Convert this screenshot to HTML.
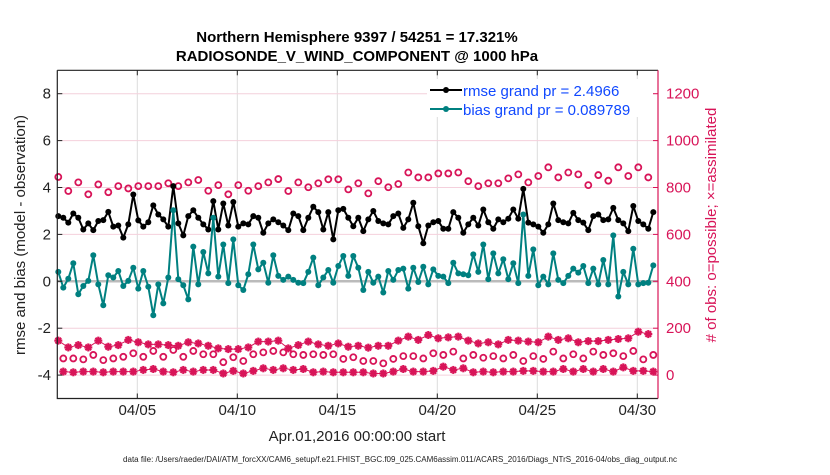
<!DOCTYPE html>
<html><head><meta charset="utf-8"><style>
body{margin:0;background:#fff;font-family:"Liberation Sans",Arial,sans-serif}
svg text{font-family:"Liberation Sans",Arial,sans-serif}
</style></head><body>
<svg id="chart" width="830" height="470" xmlns="http://www.w3.org/2000/svg">
<rect width="830" height="470" fill="#fff"/>
<g id="grid"></g><g id="marks"></g><g id="axes"></g>
</svg>
<script>
const rmse=[2.78,2.71,2.50,2.89,2.71,2.21,2.47,2.18,2.57,2.61,2.96,2.33,2.38,1.86,2.43,3.70,2.60,2.33,2.52,3.24,2.85,2.64,2.33,4.06,2.47,1.96,2.78,3.03,2.71,2.43,2.21,3.42,2.21,3.32,2.38,3.38,2.33,2.47,2.43,2.78,2.71,2.07,
2.47,2.64,2.52,2.38,2.18,2.89,2.78,2.18,2.71,3.18,2.95,2.21,2.95,1.79,3.03,3.09,2.71,2.35,2.71,2.14,2.64,3.00,2.57,2.47,2.43,2.78,2.89,2.28,2.64,3.35,2.35,1.62,2.38,2.52,2.57,2.24,2.24,2.95,2.71,2.07,
2.43,2.71,2.38,3.06,2.52,2.24,2.64,2.52,2.67,3.06,2.67,3.94,2.50,2.43,2.33,2.07,2.43,3.32,2.61,2.52,2.47,2.92,2.61,2.50,2.18,2.78,2.85,2.61,2.64,3.13,2.61,2.47,2.14,3.21,2.57,2.43,2.24,2.95];
const bias=[0.40,-0.27,0.11,0.77,-0.55,-0.20,0.02,1.11,-0.13,-1.02,0.26,0.16,0.44,-0.20,0.02,0.58,-0.31,0.44,-0.23,-1.45,-0.13,-0.94,0.16,3.03,0.09,-0.17,-0.77,1.48,-0.13,1.25,0.34,2.71,0.20,1.57,-0.08,1.79,-0.17,-0.37,0.30,1.57,0.51,0.79,
-0.06,1.11,0.23,0.06,0.20,0.06,-0.06,-0.08,0.40,1.01,-0.17,0.16,0.48,-0.06,0.65,1.08,0.23,1.08,0.58,-0.37,0.40,-0.06,0.20,-0.48,0.44,0.06,0.48,0.54,-0.31,0.58,-0.03,0.62,-0.13,0.51,0.23,0.20,-0.08,0.79,0.34,0.30,
0.26,1.15,0.40,1.57,0.09,1.19,0.34,0.94,0.09,0.77,-0.08,2.85,0.23,1.36,-0.17,0.20,-0.13,1.19,0.06,-0.08,0.23,0.54,0.37,0.65,-0.08,0.54,-0.13,0.91,-0.13,1.96,-0.65,0.40,-0.13,1.39,-0.13,-0.08,-0.06,0.68];
const possHigh=[845,785,822,771,813,780,806,796,806,806,806,818,806,822,832,786,810,771,810,786,806,
822,836,785,822,801,818,835,835,792,818,775,827,801,815,864,843,843,860,860,864,
827,806,818,818,839,856,822,849,886,843,864,856,810,853,829,886,849,886,843];
const assimHigh=[147,118,128,118,147,121,128,150,140,131,131,128,125,140,135,125,114,111,111,118,143,
143,147,114,128,143,131,125,135,121,125,117,125,125,147,164,150,171,157,161,164,
147,135,140,131,150,147,143,140,164,150,157,140,145,145,150,154,157,185,175];
const possLow=[71,71,67,86,64,71,78,93,78,103,78,107,78,103,89,89,55,76,60,89,97,
103,97,89,86,89,86,89,69,76,60,60,50,69,81,81,71,93,86,100,71,
86,74,81,71,86,60,81,69,100,71,89,71,100,86,93,81,103,67,86];
const assimLow=[15,12,15,15,12,15,15,15,22,26,15,12,22,15,22,22,7,18,7,18,29,
22,29,22,26,12,15,12,12,12,12,7,7,15,26,15,15,18,36,22,29,
12,15,12,15,15,18,18,15,15,26,15,26,15,26,15,33,18,18,15];
const xTickDays=[5,10,15,20,25,30];
const xTickLabels=["04/05","04/10","04/15","04/20","04/25","04/30"];
const yTicks=[-4,-2,0,2,4,6,8];
const y2Ticks=[0,200,400,600,800,1000,1200];

const NS="http://www.w3.org/2000/svg";
const L=57.3,R=658,T=70.3,B=398.5;
const X=d=>137.3+(d-5)*20;
const Y=v=>281.3-v*23.45;
const Y2=n=>Y(n/100-4);
function mk(tag,attrs,parent,txt){const e=document.createElementNS(NS,tag);for(const k in attrs)e.setAttribute(k,attrs[k]);if(txt!==undefined)e.textContent=txt;parent.appendChild(e);return e;}
const grid=document.getElementById('grid'),marks=document.getElementById('marks'),axes=document.getElementById('axes');
const CR="#d81458";

xTickDays.forEach(d=>{const e=mk('line',{x1:X(d),x2:X(d),y1:T,y2:B,stroke:'#dcdcdc','stroke-width':1},grid);

});
yTicks.forEach(v=>{const e=mk('line',{x1:L,x2:R,y1:Y(v),y2:Y(v),stroke:'#f4d0dc','stroke-width':1},grid);

});
const zl=mk('line',{x1:L,x2:R,y1:Y(0),y2:Y(0),stroke:'#bbbbbb','stroke-width':2.5},grid);



const tR=i=>1.05+0.25*i;
const tH=i=>1.05+0.5*i;
const tLo=i=>1.3+0.5*i;

function star(cx,cy,parent){
 const g=mk('g',{stroke:CR,'stroke-width':2.2},parent);
 
 
 const r=4;
 [[r,0],[0,r],[r*0.71,r*0.71],[r*0.71,-r*0.71]].forEach(([dx,dy])=>mk('line',{x1:cx-dx,y1:cy-dy,x2:cx+dx,y2:cy+dy},g));
}
function seriesLine(vals,tf,yf,color,w,name){
 const p=mk('polyline',{points:vals.map((v,i)=>X(tf(i))+','+yf(v)).join(' '),fill:'none',stroke:color,'stroke-width':w,'stroke-linejoin':'round'},marks);
 
 
}
seriesLine(assimHigh,tH,Y2,CR,1,'assimilated-high-line');
seriesLine(assimLow,tLo,Y2,CR,1,'assimilated-low-line');
possHigh.forEach((v,i)=>{const c=mk('circle',{cx:X(tH(i)),cy:Y2(v),r:3,fill:'none',stroke:CR,'stroke-width':1.8},marks);

});
possLow.forEach((v,i)=>{const c=mk('circle',{cx:X(tLo(i)),cy:Y2(v),r:3,fill:'none',stroke:CR,'stroke-width':1.8},marks);

});
assimHigh.forEach((v,i)=>star(X(tH(i)),Y2(v),marks));
assimLow.forEach((v,i)=>star(X(tLo(i)),Y2(v),marks));
seriesLine(rmse,tR,Y,'#000',2,'rmse-line');
rmse.forEach((v,i)=>{const c=mk('circle',{cx:X(tR(i)),cy:Y(v),r:3,fill:'#000'},marks);

});
seriesLine(bias,tR,Y,'#008080',2,'bias-line');
bias.forEach((v,i)=>{const c=mk('circle',{cx:X(tR(i)),cy:Y(v),r:3,fill:'#008080'},marks);

});

mk('path',{d:`M${L},${T}H${R}M${L},${T}V${B}H${R}`,stroke:'#222',fill:'none','stroke-width':1.2},axes);
mk('line',{x1:R,x2:R,y1:T,y2:B,stroke:CR,'stroke-width':1.2},axes);
xTickDays.forEach((d,i)=>{
 mk('line',{x1:X(d),x2:X(d),y1:B,y2:B-5,stroke:'#222'},axes);
 mk('line',{x1:X(d),x2:X(d),y1:T,y2:T+5,stroke:'#222'},axes);
 const t=mk('text',{x:X(d),y:415,'font-size':15,'text-anchor':'middle',fill:'#222'},axes,xTickLabels[i]);
 
 
});
yTicks.forEach(v=>{
 mk('line',{x1:L,x2:L+5,y1:Y(v),y2:Y(v),stroke:'#222'},axes);
 const t=mk('text',{x:51,y:Y(v)+5,'font-size':15,'text-anchor':'end',fill:'#222'},axes,String(v));
 
 
});
y2Ticks.forEach(n=>{
 mk('line',{x1:R,x2:R-5,y1:Y2(n),y2:Y2(n),stroke:CR},axes);
 const t=mk('text',{x:666,y:Y2(n)+5,'font-size':15,'text-anchor':'start',fill:CR},axes,String(n));
 
 
});
</script>
<svg style="position:absolute;left:0;top:0" width="830" height="470" xmlns="http://www.w3.org/2000/svg">
<text x="357" y="42" font-size="15" font-weight="bold" text-anchor="middle" fill="#000">Northern Hemisphere 9397 / 54251 = 17.321%</text>
<text x="357" y="61" font-size="15" font-weight="bold" text-anchor="middle" fill="#000">RADIOSONDE_V_WIND_COMPONENT @ 1000 hPa</text>
<g>
<rect x="427" y="79" width="226" height="38" fill="#fff"/>
<line x1="430" y1="90" x2="462" y2="90" stroke="#000" stroke-width="2"/><circle cx="446" cy="90" r="3" fill="#000"/>
<text x="463" y="96" font-size="15" fill="#1048ff">rmse grand pr = 2.4966</text>
<line x1="430" y1="109" x2="462" y2="109" stroke="#008080" stroke-width="2"/><circle cx="446" cy="109" r="3" fill="#008080"/>
<text x="463" y="115" font-size="15" fill="#1048ff">bias grand pr = 0.089789</text>
</g>
<text transform="translate(25,235) rotate(-90)" font-size="15" text-anchor="middle" fill="#222">rmse and bias (model - observation)</text>
<text transform="translate(716,225) rotate(-90)" font-size="15" text-anchor="middle" fill="#d81458"># of obs: o=possible; ×=assimilated</text>
<text x="357" y="441" font-size="15" text-anchor="middle" fill="#222">Apr.01,2016 00:00:00 start</text>
<text x="400" y="462" font-size="8" text-anchor="middle" fill="#222">data file: /Users/raeder/DAI/ATM_forcXX/CAM6_setup/f.e21.FHIST_BGC.f09_025.CAM6assim.011/ACARS_2016/Diags_NTrS_2016-04/obs_diag_output.nc</text>
</svg>
</body></html>
